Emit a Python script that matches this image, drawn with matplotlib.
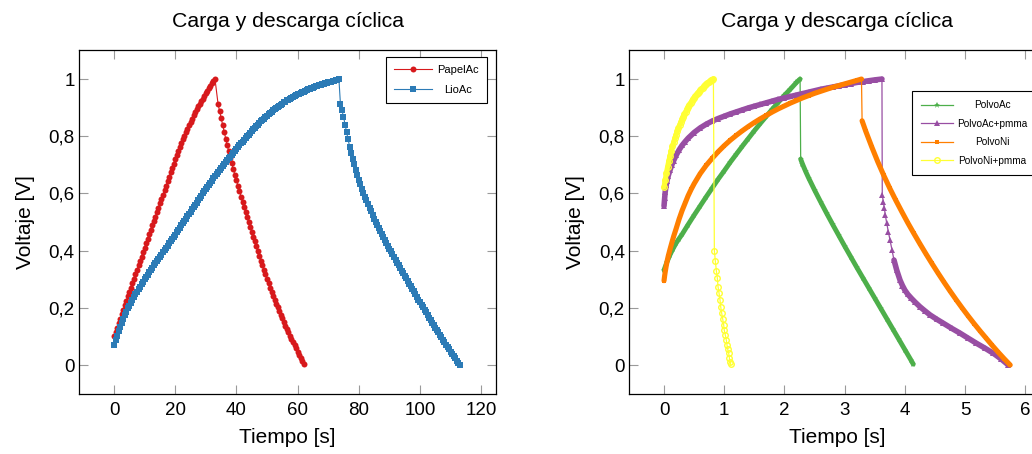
import numpy as np
import matplotlib
matplotlib.use("Agg")
import matplotlib.pyplot as plt

plt.rcParams['font.family'] = ['Liberation Sans', 'DejaVu Sans']

# ---------------- texts / ticks ----------------
TITLE = "Carga y descarga cíclica"
XLABEL = "Tiempo [s]"
YLABEL = "Voltaje [V]"
Y_TICKS = [0, 0.2, 0.4, 0.6, 0.8, 1.0]
Y_TICK_LABELS = ["0", "0,2", "0,4", "0,6", "0,8", "1"]
X_TICKS_LEFT = [0, 20, 40, 60, 80, 100, 120]
X_TICK_LABELS_LEFT = ["0", "20", "40", "60", "80", "100", "120"]
X_TICKS_RIGHT = [0, 1, 2, 3, 4, 5, 6]
X_TICK_LABELS_RIGHT = ["0", "1", "2", "3", "4", "5", "6"]

# ---------------- left panel data (sampled every 0.5 s) ----------------
SAMPLE_STEP_LEFT = 0.5

papel_charge_t0 = 0.0
papel_charge_v = [
    0.100, 0.116, 0.131, 0.147, 0.162, 0.178, 0.193, 0.209, 0.224, 0.240,
    0.255, 0.271, 0.286, 0.302, 0.317, 0.333, 0.348, 0.364, 0.379, 0.395,
    0.410, 0.426, 0.441, 0.457, 0.472, 0.488, 0.503, 0.519, 0.534, 0.550,
    0.565, 0.581, 0.596, 0.612, 0.627, 0.643, 0.658, 0.674, 0.689, 0.704,
    0.719, 0.734, 0.748, 0.762, 0.776, 0.789, 0.802, 0.815, 0.827, 0.839,
    0.851, 0.862, 0.873, 0.884, 0.894, 0.904, 0.913, 0.922, 0.931, 0.940,
    0.950, 0.959, 0.968, 0.977, 0.985, 0.993, 1.000]
papel_dis_t0 = 34.0
papel_dis_v = [
    0.913, 0.888, 0.864, 0.840, 0.816, 0.792, 0.769, 0.747, 0.725, 0.705,
    0.685, 0.665, 0.646, 0.627, 0.608, 0.589, 0.570, 0.552, 0.534, 0.517,
    0.500, 0.483, 0.466, 0.449, 0.432, 0.415, 0.398, 0.381, 0.365, 0.349,
    0.333, 0.317, 0.301, 0.286, 0.271, 0.257, 0.243, 0.229, 0.215, 0.202,
    0.189, 0.176, 0.163, 0.150, 0.138, 0.126, 0.114, 0.102, 0.091, 0.080,
    0.069, 0.058, 0.047, 0.036, 0.025, 0.014, 0.003]

lio_charge_t0 = 0.0
lio_charge_v = [
    0.070, 0.087, 0.103, 0.119, 0.134, 0.148, 0.162, 0.175, 0.187, 0.198,
    0.208, 0.218, 0.228, 0.238, 0.247, 0.256, 0.265, 0.274, 0.283, 0.292,
    0.300, 0.308, 0.316, 0.324, 0.332, 0.340, 0.348, 0.356, 0.363, 0.371,
    0.378, 0.386, 0.394, 0.402, 0.409, 0.417, 0.425, 0.433, 0.440, 0.448,
    0.456, 0.464, 0.472, 0.480, 0.488, 0.496, 0.504, 0.512, 0.520, 0.528,
    0.536, 0.544, 0.552, 0.560, 0.568, 0.576, 0.584, 0.592, 0.600, 0.608,
    0.615, 0.623, 0.630, 0.638, 0.645, 0.653, 0.660, 0.667, 0.674, 0.681,
    0.688, 0.695, 0.702, 0.709, 0.716, 0.723, 0.729, 0.736, 0.742, 0.749,
    0.755, 0.762, 0.768, 0.775, 0.781, 0.788, 0.794, 0.800, 0.806, 0.812,
    0.818, 0.824, 0.830, 0.836, 0.841, 0.847, 0.852, 0.857, 0.862, 0.867,
    0.872, 0.877, 0.881, 0.886, 0.890, 0.894, 0.898, 0.902, 0.906, 0.910,
    0.914, 0.918, 0.921, 0.925, 0.928, 0.931, 0.934, 0.937, 0.940, 0.943,
    0.946, 0.949, 0.951, 0.954, 0.956, 0.959, 0.961, 0.964, 0.966, 0.968,
    0.970, 0.972, 0.974, 0.976, 0.978, 0.980, 0.982, 0.984, 0.985, 0.987,
    0.988, 0.990, 0.991, 0.993, 0.994, 0.996, 0.997, 1.000]
lio_dis_t0 = 74.0
lio_dis_v = [
    0.913, 0.890, 0.868, 0.841, 0.815, 0.789, 0.764, 0.742, 0.721, 0.702,
    0.683, 0.665, 0.648, 0.632, 0.617, 0.603, 0.589, 0.576, 0.563, 0.550,
    0.537, 0.524, 0.512, 0.501, 0.490, 0.479, 0.468, 0.457, 0.447, 0.437,
    0.427, 0.417, 0.407, 0.397, 0.387, 0.377, 0.368, 0.358, 0.349, 0.339,
    0.330, 0.321, 0.312, 0.303, 0.294, 0.285, 0.276, 0.267, 0.258, 0.248,
    0.239, 0.229, 0.220, 0.211, 0.202, 0.193, 0.184, 0.175, 0.166, 0.157,
    0.148, 0.139, 0.131, 0.122, 0.114, 0.105, 0.097, 0.088, 0.080, 0.071,
    0.063, 0.055, 0.047, 0.039, 0.031, 0.023, 0.015, 0.007, 0.000]

# ---------------- right panel data ----------------
polvoac_charge_t = [0.00, 0.05, 0.10, 0.15, 0.20, 0.25, 0.30, 0.40, 0.50, 0.60,
                    0.70, 0.80, 0.90, 1.00, 1.10, 1.20, 1.30, 1.40, 1.50, 1.60,
                    1.70, 1.80, 1.90, 2.00, 2.10, 2.20, 2.26]
polvoac_charge_v = [0.332, 0.361, 0.386, 0.407, 0.426, 0.442, 0.457, 0.491, 0.524, 0.556,
                    0.588, 0.619, 0.650, 0.679, 0.709, 0.737, 0.765, 0.792, 0.819, 0.845,
                    0.870, 0.895, 0.919, 0.943, 0.965, 0.988, 1.000]
polvoac_dis_t = [2.27, 2.30, 2.35, 2.40, 2.50, 2.60, 2.70, 2.80, 2.90, 3.00,
                 3.10, 3.20, 3.30, 3.40, 3.50, 3.60, 3.70, 3.80, 3.90, 4.00,
                 4.10, 4.14]
polvoac_dis_v = [0.720, 0.703, 0.678, 0.655, 0.612, 0.571, 0.531, 0.492, 0.454, 0.416,
                 0.379, 0.342, 0.306, 0.270, 0.234, 0.198, 0.162, 0.126, 0.090, 0.054,
                 0.018, 0.003]

polvoacp_charge_t = [0.00, 0.01, 0.02, 0.035, 0.05, 0.07, 0.10, 0.13, 0.16, 0.20,
                     0.25, 0.30, 0.35, 0.40, 0.50, 0.60, 0.70, 0.80, 0.90, 1.00,
                     1.10, 1.20, 1.30, 1.40, 1.50, 1.60, 1.70, 1.80, 1.90, 2.00,
                     2.10, 2.20, 2.30, 2.40, 2.50, 2.60, 2.70, 2.80, 2.90, 3.00,
                     3.10, 3.20, 3.30, 3.40, 3.50, 3.62]
polvoacp_charge_v = [0.556, 0.583, 0.606, 0.628, 0.645, 0.662, 0.682, 0.700, 0.715, 0.733,
                     0.752, 0.768, 0.781, 0.793, 0.813, 0.829, 0.842, 0.853, 0.862, 0.870,
                     0.878, 0.885, 0.892, 0.899, 0.905, 0.911, 0.917, 0.923, 0.929, 0.934,
                     0.939, 0.944, 0.949, 0.954, 0.959, 0.964, 0.968, 0.972, 0.976, 0.980,
                     0.984, 0.988, 0.991, 0.994, 0.997, 1.000]
polvoacp_dis_t = [3.625, 3.643, 3.660, 3.676, 3.700, 3.726, 3.754, 3.787, 3.820, 3.865,
                  3.920, 3.960, 4.000, 4.050, 4.110, 4.170, 4.250, 4.330, 4.420, 4.530,
                  4.640, 4.780, 4.920, 5.050, 5.190, 5.330, 5.470, 5.600, 5.720]
polvoacp_dis_v = [0.594, 0.571, 0.548, 0.524, 0.495, 0.466, 0.437, 0.402, 0.367, 0.332,
                  0.297, 0.278, 0.262, 0.247, 0.233, 0.220, 0.204, 0.190, 0.175, 0.160,
                  0.146, 0.128, 0.111, 0.094, 0.076, 0.059, 0.041, 0.021, 0.000]

polvoni_charge_t = [0.000, 0.010, 0.020, 0.035, 0.050, 0.070, 0.100, 0.130, 0.160, 0.200,
                    0.250, 0.300, 0.350, 0.400, 0.450, 0.500, 0.600, 0.700, 0.800, 0.900,
                    1.000, 1.100, 1.200, 1.300, 1.400, 1.500, 1.600, 1.700, 1.800, 1.900,
                    2.000, 2.100, 2.200, 2.300, 2.400, 2.500, 2.600, 2.700, 2.800, 2.900,
                    3.000, 3.100, 3.200, 3.280]
polvoni_charge_v = [0.295, 0.312, 0.326, 0.345, 0.362, 0.381, 0.405, 0.428, 0.450, 0.476,
                    0.510, 0.540, 0.566, 0.592, 0.614, 0.634, 0.669, 0.698, 0.723, 0.746,
                    0.767, 0.786, 0.803, 0.819, 0.834, 0.848, 0.861, 0.873, 0.885, 0.896,
                    0.906, 0.916, 0.925, 0.934, 0.942, 0.950, 0.957, 0.964, 0.971, 0.977,
                    0.983, 0.989, 0.995, 1.000]
polvoni_dis_t = [3.29, 3.35, 3.45, 3.55, 3.65, 3.75, 3.85, 3.95, 4.05, 4.15,
                 4.25, 4.35, 4.45, 4.55, 4.65, 4.75, 4.85, 4.95, 5.05, 5.15,
                 5.25, 5.35, 5.45, 5.55, 5.65, 5.75]
polvoni_dis_v = [0.854, 0.818, 0.763, 0.711, 0.663, 0.618, 0.576, 0.536, 0.497, 0.460,
                 0.424, 0.389, 0.355, 0.322, 0.290, 0.259, 0.229, 0.200, 0.172, 0.145,
                 0.119, 0.094, 0.069, 0.045, 0.022, 0.000]

polvonip_charge_t = [0.00, 0.02, 0.04, 0.06, 0.08, 0.10, 0.12, 0.14, 0.16, 0.18,
                     0.20, 0.22, 0.24, 0.26, 0.28, 0.30, 0.32, 0.34, 0.36, 0.38,
                     0.40, 0.42, 0.44, 0.46, 0.48, 0.50, 0.52, 0.54, 0.56, 0.58,
                     0.60, 0.62, 0.64, 0.66, 0.68, 0.70, 0.72, 0.74, 0.76, 0.78,
                     0.80, 0.82]
polvonip_charge_v = [0.622, 0.648, 0.672, 0.694, 0.714, 0.732, 0.749, 0.765, 0.779, 0.793,
                     0.806, 0.818, 0.829, 0.840, 0.850, 0.860, 0.869, 0.878, 0.886, 0.894,
                     0.902, 0.909, 0.916, 0.922, 0.929, 0.935, 0.940, 0.946, 0.951, 0.956,
                     0.961, 0.965, 0.970, 0.974, 0.978, 0.982, 0.985, 0.989, 0.992, 0.995,
                     0.998, 1.000]
polvonip_dis_t = [0.836, 0.852, 0.869, 0.886, 0.897, 0.914, 0.930, 0.941, 0.958, 0.975,
                  0.991, 1.000, 1.018, 1.035, 1.046, 1.058, 1.074, 1.085, 1.096, 1.108]
polvonip_dis_v = [0.400, 0.364, 0.330, 0.303, 0.274, 0.251, 0.227, 0.204, 0.181, 0.160,
                  0.140, 0.122, 0.105, 0.087, 0.070, 0.055, 0.041, 0.026, 0.012, 0.002]

# ---------------- styles ----------------
C_PAPEL = '#d7191c'
C_LIO = '#2c7bb6'
C_GREEN = '#4daf4a'
C_PURPLE = '#984ea3'
C_ORANGE = '#ff7f00'
C_YELLOW = '#ffff33'
TICK_COLOR = '#9a9a9a'


def times(t0, values, step):
    return t0 + step * np.arange(len(values))


def style_axes(ax, xlim, xticks, xticklabels):
    ax.set_xlim(*xlim)
    ax.set_ylim(-0.1, 1.1)
    ax.set_xticks(xticks)
    ax.set_xticklabels(xticklabels)
    ax.set_yticks(Y_TICKS)
    ax.set_yticklabels(Y_TICK_LABELS)
    ax.tick_params(axis='both', which='major', direction='in', length=6.2,
                   width=0.8, color=TICK_COLOR, labelsize=13.5,
                   top=True, right=True, labelcolor='black')
    ax.tick_params(axis='x', pad=5.8)
    ax.tick_params(axis='y', pad=3.3)
    for sp in ax.spines.values():
        sp.set_linewidth(0.9)
        sp.set_color('black')
    ax.set_title(TITLE, fontsize=15.3, pad=17)
    ax.set_xlabel(XLABEL, fontsize=15, labelpad=7)
    ax.set_ylabel(YLABEL, fontsize=15, labelpad=10)


def center_legend_texts(fig, leg):
    fig.canvas.draw()
    renderer = fig.canvas.get_renderer()
    texts = leg.get_texts()
    widths = [t.get_window_extent(renderer).width for t in texts]
    wmax = max(widths)
    for t, w in zip(texts, widths):
        t.set_x((wmax - w) / 2.0)


fig = plt.figure(figsize=(10.32, 4.54), dpi=100)
fig.patch.set_facecolor('white')

# ---------------- left panel ----------------
axL = fig.add_axes([0.07684, 0.1330, 0.4038, 0.7559])
papel_t = np.concatenate([times(papel_charge_t0, papel_charge_v, SAMPLE_STEP_LEFT),
                          times(papel_dis_t0, papel_dis_v, SAMPLE_STEP_LEFT)])
papel_v = np.concatenate([papel_charge_v, papel_dis_v])
lio_t = np.concatenate([times(lio_charge_t0, lio_charge_v, SAMPLE_STEP_LEFT),
                        times(lio_dis_t0, lio_dis_v, SAMPLE_STEP_LEFT)])
lio_v = np.concatenate([lio_charge_v, lio_dis_v])

axL.plot(papel_t, papel_v, color=C_PAPEL, lw=0.8, marker='o', ms=4.3, mew=0,
         label='PapelAc', zorder=3)
axL.plot(lio_t, lio_v, color=C_LIO, lw=0.8, marker='s', ms=4.0, mew=0,
         label='LioAc', zorder=3)
style_axes(axL, (-11.35, 124.85), X_TICKS_LEFT, X_TICK_LABELS_LEFT)
legL = axL.legend(loc='upper right', bbox_to_anchor=(0.978, 0.981), borderaxespad=0,
                  fontsize=8, handlelength=3.4, handletextpad=0.45,
                  borderpad=0.75, labelspacing=0.85, fancybox=False,
                  edgecolor='black', framealpha=1)
legL.get_frame().set_linewidth(0.8)

# ---------------- right panel ----------------
axR = fig.add_axes([0.6099, 0.1330, 0.4025, 0.7559])

series = [
    ('PolvoAc', C_GREEN, '*', 4.6, 3.5, polvoac_charge_t, polvoac_charge_v,
     polvoac_dis_t, polvoac_dis_v, 0),
    ('PolvoAc+pmma', C_PURPLE, '^', 4.0, 4.0, polvoacp_charge_t, polvoacp_charge_v,
     polvoacp_dis_t, polvoacp_dis_v, 8),
    ('PolvoNi', C_ORANGE, 's', 3.4, 3.7, polvoni_charge_t, polvoni_charge_v,
     polvoni_dis_t, polvoni_dis_v, 0),
    ('PolvoNi+pmma', C_YELLOW, 'o', 4.0, 3.7, polvonip_charge_t, polvonip_charge_v,
     polvonip_dis_t, polvonip_dis_v, None),
]
z = 3
for name, col, mk, ms, band_w, tc, vc, td, vd, band_from in series:
    axR.plot(tc, vc, color=col, lw=band_w, solid_capstyle='round', zorder=z)
    if band_from is not None:
        axR.plot(td[band_from:], vd[band_from:], color=col, lw=band_w,
                 solid_capstyle='round', zorder=z)
    t_all = np.concatenate([tc, td])
    v_all = np.concatenate([vc, vd])
    if mk == 'o':
        axR.plot(t_all, v_all, color=col, lw=0.9, marker=mk, ms=ms, mfc='none',
                 mec=col, mew=1.0, label=name, zorder=z + 0.5)
    else:
        axR.plot(t_all, v_all, color=col, lw=0.9, marker=mk, ms=ms, mew=0,
                 label=name, zorder=z + 0.5)
    z += 1

style_axes(axR, (-0.575, 6.325), X_TICKS_RIGHT, X_TICK_LABELS_RIGHT)
legR = axR.legend(loc='upper left', bbox_to_anchor=(0.68, 0.883), borderaxespad=0,
                  fontsize=7.2, handlelength=3.2, handletextpad=0.4,
                  borderpad=0.95, labelspacing=0.85, fancybox=False,
                  edgecolor='black', framealpha=1)
legR.get_frame().set_linewidth(0.8)

center_legend_texts(fig, legL)
center_legend_texts(fig, legR)

fig.savefig('out.png', dpi=100, facecolor='white')
